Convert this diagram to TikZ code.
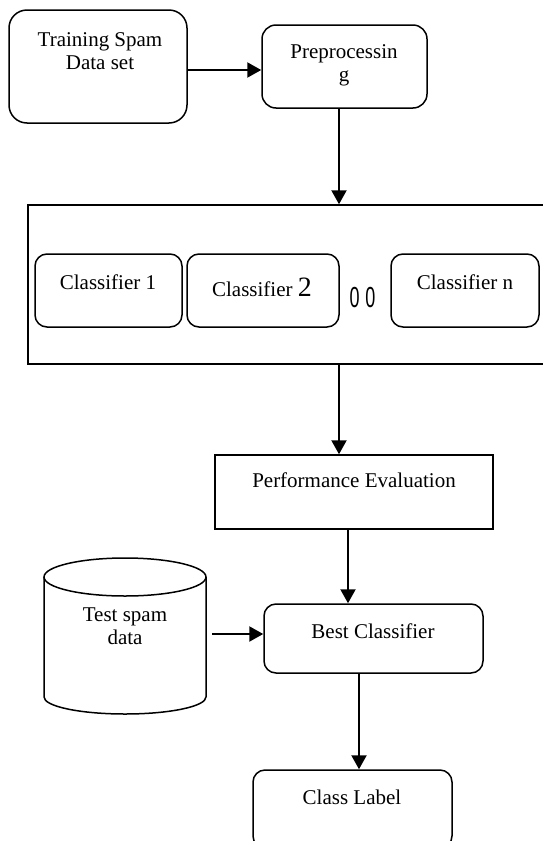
\documentclass[tikz,border=0pt]{standalone}
\usepackage{fontspec}
\usepackage{graphicx}
\setmainfont{Liberation Serif}
\newfontfamily\dotfont{Liberation Sans}
\usetikzlibrary{arrows.meta}
\tikzset{
  box/.style={draw, line width=1.5pt, inner sep=0pt, fill=none},
  rbox/.style={box, rounded corners=#1},
  lbl/.style={align=center, inner sep=0pt, font=\fontsize{21}{23}\selectfont},
  arr/.style={line width=2.2pt, -{Triangle[length=14pt,width=15pt]}}
}
\begin{document}
\begin{tikzpicture}[x=1pt,y=-1pt]
\useasboundingbox (0,0) rectangle (543,841);
\clip (0,0) rectangle (543,841);

% boxes
\node[rbox=18pt, minimum width=178pt, minimum height=113pt] (train) at (98,66.5) {};
\node[rbox=14pt, minimum width=165pt, minimum height=83pt] (pre) at (344.5,66.5) {};
\node[box, minimum width=532pt, minimum height=159pt] (big) at (294,284.5) {};
\node[rbox=12pt, minimum width=147pt, minimum height=73pt] (c1) at (108.5,290.5) {};
\node[rbox=12pt, minimum width=152pt, minimum height=73pt] (c2) at (263,290.5) {};
\node[rbox=12pt, minimum width=148pt, minimum height=73pt] (cn) at (465,290.5) {};
\node[box, minimum width=278pt, minimum height=74pt] (perf) at (354,492) {};
\node[rbox=12pt, minimum width=219pt, minimum height=69pt] (best) at (373.5,638.5) {};
\node[rbox=12pt, minimum width=199pt, minimum height=78pt] (cls) at (352.5,809) {};

% cylinder
\draw[line width=1.5pt] (125,577) ellipse [x radius=81, y radius=19];
\draw[line width=1.5pt] (44,577) -- (44,697)
  .. controls (44,706.4) and (80.3,714) .. (125,714)
  .. controls (169.7,714) and (206,706.4) .. (206,697) -- (206,577);
\coordinate (cylR) at (212,634);

% texts
\node[lbl] (ttrain) at (100,51.5) {Training Spam\\Data set};
\node[lbl] (tpre) at (344,65) {Preprocessin\\g};
\node[lbl] (tc1) at (108,282) {Classifier 1};
\node[lbl] (tc2) at (262,287) {Classifier {\fontsize{28}{28}\selectfont 2}};
\node[lbl] (tdots) at (362.5,298) {\scalebox{0.62}[1]{\dotfont\fontsize{29}{29}\selectfont 0\,\,0}};
\node[lbl] (tcn) at (465,282) {Classifier n};
\node[lbl] (tperf) at (354,480) {Performance Evaluation};
\node[lbl] (tbest) at (373,631) {Best Classifier};
\node[lbl] (tcls) at (352,797) {Class Label};
\node[lbl] (ttest) at (125,626.5) {Test spam\\data};

% connectors
\draw[arr] (train.east |- 0,70) -- (pre.west |- 0,70);
\draw[arr] (pre.south -| 339,0) -- (big.north -| 339,0);
\draw[arr] (big.south -| 339,0) -- (perf.north -| 339,0);
\draw[arr] (perf.south -| 348,0) -- (best.north -| 348,0);
\draw[arr] (best.south -| 359,0) -- (cls.north -| 359,0);
\draw[arr] (cylR) -- (best.west |- cylR);
\end{tikzpicture}
\end{document}
